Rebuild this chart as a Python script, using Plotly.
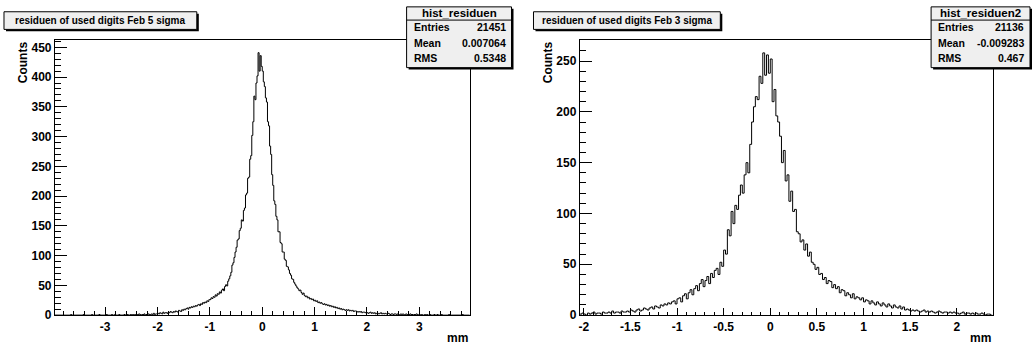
import plotly.graph_objects as go

W, H = 1036, 352

# ---------------- data ----------------
LEFT_TITLE = "residuen of used digits Feb 5 sigma"
RIGHT_TITLE = "residuen of used digits Feb 3 sigma"
LEFT_NAME = "hist_residuen"
RIGHT_NAME = "hist_residuen2"
LEFT_STATS_LABELS = ["Entries", "Mean", "RMS"]
LEFT_STATS_VALUES = ["21451", "0.007064", "0.5348"]
RIGHT_STATS_LABELS = ["Entries", "Mean", "RMS"]
RIGHT_STATS_VALUES = ["21136", "-0.009283", "0.467"]

LEFT_BIN_START = -4.0
LEFT_BIN_WIDTH = 0.02
LEFT_COUNTS = [
    0,0,0,0,0,0,0,0,0,0,0,0,0,0,0,0,0,1,0,0,0,0,0,0,0,
    0,0,0,0,1,0,0,0,0,0,0,0,1,0,0,0,0,0,0,1,0,0,0,0,0,
    0,1,0,0,0,0,1,0,0,1,0,0,0,1,0,0,0,0,1,0,0,1,0,0,1,
    1,0,1,1,0,1,0,2,1,0,1,1,2,0,1,1,2,1,1,2,1,3,1,2,2,
    3,2,4,3,2,5,3,4,4,3,5,4,6,5,4,6,5,7,6,5,8,7,6,9,8,
    10,9,11,12,10,13,12,14,13,15,14,16,15,17,18,16,19,18,21,20,22,21,24,23,26,
    26,29,28,31,30,34,32,36,35,39,37,42,44,41,48,51,49,57,61,66,72,84,88,97,106,
    114,126,128,142,146,160,158,176,180,202,205,230,232,262,268,302,325,368,362,390,402,441,410,436,418,
    410,392,384,365,358,325,318,284,270,236,218,192,186,166,160,140,140,122,120,106,106,94,92,82,81,
    76,70,67,61,60,55,52,49,46,44,41,42,38,35,37,33,31,32,29,30,27,28,26,27,24,
    25,23,24,21,22,20,21,19,18,19,17,18,16,17,15,16,14,15,13,14,12,13,11,12,10,
    11,9,10,9,8,9,8,9,7,8,7,8,6,7,7,6,5,6,5,6,4,5,5,4,5,
    4,3,4,5,3,4,3,4,2,3,3,2,3,4,2,3,2,3,2,2,3,2,1,2,2,
    1,2,2,1,2,1,1,2,1,2,1,1,2,1,0,1,2,1,1,0,1,1,2,1,0,
    1,0,1,0,0,1,0,1,0,0,1,0,0,0,1,0,0,1,0,0,0,1,0,0,0,
    0,0,0,1,0,0,0,0,0,0,0,0,0,0,0,0,1,0,0,0,0,0,0,0,0,
]

RIGHT_BIN_START = -2.04
RIGHT_BIN_WIDTH = 0.02
RIGHT_COUNTS = [
    1,2,1,0,2,1,2,3,1,2,2,1,3,2,2,3,2,4,2,3,3,2,4,3,3,
    4,3,5,4,3,5,6,4,5,7,6,5,7,8,6,9,8,7,10,9,11,10,12,11,13,
    14,11,16,17,13,19,21,16,22,25,20,26,29,24,31,35,28,34,38,31,41,37,44,46,40,
    52,48,64,60,84,78,102,90,108,104,118,128,120,138,150,140,168,190,205,215,212,235,228,258,236,
    256,238,252,210,222,196,190,176,150,162,132,138,112,122,102,104,82,80,72,74,64,70,58,62,52,
    50,45,47,40,41,35,37,31,34,33,27,30,26,28,22,25,24,19,22,20,17,21,16,18,17,
    15,17,13,15,14,11,14,12,10,13,11,9,12,10,8,11,9,7,10,8,7,9,6,8,5,
    6,5,4,5,4,5,4,3,4,5,3,4,3,4,3,2,3,4,3,2,3,3,2,3,2,
    3,2,2,1,2,3,1,2,2,1,2,1,2,1,1,2,1,0,1,1,0,
]

LEFT_X_TICKS = [-3, -2, -1, 0, 1, 2, 3]
LEFT_X_LABELS = ["-3", "-2", "-1", "0", "1", "2", "3"]
LEFT_Y_TICKS = [0, 50, 100, 150, 200, 250, 300, 350, 400, 450]
RIGHT_X_TICKS = [-2, -1.5, -1, -0.5, 0, 0.5, 1, 1.5, 2]
RIGHT_X_LABELS = ["-2", "-1.5", "-1", "-0.5", "0", "0.5", "1", "1.5", "2"]
RIGHT_Y_TICKS = [0, 50, 100, 150, 200, 250]

X_TITLE = "mm"
Y_TITLE = "Counts"

# ---------------- helpers ----------------
FONT = "Liberation Sans, Arial, Helvetica, sans-serif"


def step_xy(start, width, counts):
    xs = [start + i * width for i in range(len(counts) + 1)]
    ys = list(counts) + [counts[-1]]
    return xs, ys


def px(x):
    return x / W


def py(y):
    return 1 - y / H


fig = go.Figure()

lx, ly = step_xy(LEFT_BIN_START, LEFT_BIN_WIDTH, LEFT_COUNTS)
rx, ry = step_xy(RIGHT_BIN_START, RIGHT_BIN_WIDTH, RIGHT_COUNTS)

fig.add_trace(go.Scatter(x=lx, y=ly, mode="lines", line=dict(color="black", width=1, shape="hv"),
                         xaxis="x", yaxis="y", showlegend=False, hoverinfo="skip"))
fig.add_trace(go.Scatter(x=rx, y=ry, mode="lines", line=dict(color="black", width=1, shape="hv"),
                         xaxis="x2", yaxis="y2", showlegend=False, hoverinfo="skip"))

PLOT_TOP, PLOT_BOT = 41, 321.5
L_X0, L_X1 = 54, 469
R_X0, R_X1 = 579.3, 993.3

tickfont = dict(family=FONT, size=12, color="black", weight="bold")

common_x = dict(showline=True, linecolor="black", linewidth=1, mirror=True, ticks="inside",
                tickcolor="black", tickwidth=1, showgrid=False, zeroline=False,
                tickfont=tickfont, tickmode="array", fixedrange=True)
common_y = dict(showline=True, linecolor="black", linewidth=1, mirror=True, ticks="inside",
                tickcolor="black", tickwidth=1, showgrid=False, zeroline=False,
                tickfont=tickfont, tickmode="array", fixedrange=True, ticklen=12)

fig.update_layout(
    width=W, height=H, margin=dict(l=0, r=0, t=0, b=0),
    paper_bgcolor="white", plot_bgcolor="white",
    xaxis=dict(domain=[px(L_X0), px(L_X1)], range=[-3.96, 3.96], anchor="y",
               tickvals=LEFT_X_TICKS, ticktext=LEFT_X_LABELS, ticklen=8,
               minor=dict(dtick=0.2, tick0=0, ticks="inside", ticklen=4, tickcolor="black", showgrid=False),
               **common_x),
    yaxis=dict(domain=[py(PLOT_BOT), py(PLOT_TOP)], range=[0, 462], anchor="x",
               tickvals=LEFT_Y_TICKS, ticktext=[str(v) for v in LEFT_Y_TICKS],
               minor=dict(dtick=10, tick0=0, ticks="inside", ticklen=6, tickcolor="black", showgrid=False),
               **common_y),
    xaxis2=dict(domain=[px(R_X0), px(R_X1)], range=[-2.043, 2.392], anchor="y2",
                tickvals=RIGHT_X_TICKS, ticktext=RIGHT_X_LABELS, ticklen=7,
                minor=dict(dtick=0.1, tick0=0, ticks="inside", ticklen=3.5, tickcolor="black", showgrid=False),
                **common_x),
    yaxis2=dict(domain=[py(PLOT_BOT), py(PLOT_TOP)], range=[0, 270.5], anchor="x2",
                tickvals=RIGHT_Y_TICKS, ticktext=[str(v) for v in RIGHT_Y_TICKS],
                minor=dict(dtick=10, tick0=0, ticks="inside", ticklen=6, tickcolor="black", showgrid=False),
                **common_y),
)

shapes = []
annotations = []


def box(x0, y0, x1, y1, fill, shadow=2):
    shapes.append(dict(type="rect", xref="paper", yref="paper", layer="above",
                       x0=px(x0 + shadow), x1=px(x1 + shadow), y0=py(y1 + shadow), y1=py(y0 + shadow),
                       fillcolor="black", line=dict(width=0)))
    shapes.append(dict(type="rect", xref="paper", yref="paper", layer="above",
                       x0=px(x0), x1=px(x1), y0=py(y1), y1=py(y0),
                       fillcolor=fill, line=dict(color="black", width=1)))


def text(x, y, s, size, xanchor="center", angle=0):
    annotations.append(dict(xref="paper", yref="paper", x=px(x), y=py(y), text=s, showarrow=False,
                            xanchor=xanchor, yanchor="middle", textangle=angle,
                            font=dict(family=FONT, size=size, color="black", weight="bold")))


BOX_FILL = "#efefef"

# title boxes
box(3, 12, 196, 30, BOX_FILL)
text(99.5, 21, LEFT_TITLE, 10)
box(533, 12, 720, 30, BOX_FILL)
text(626.5, 21, RIGHT_TITLE, 10)


# stats boxes
def stats(x0, x1, name, labels, values):
    y0, y1 = 7, 69
    box(x0, y0, x1, y1, BOX_FILL)
    shapes.append(dict(type="line", xref="paper", yref="paper", layer="above",
                       x0=px(x0), x1=px(x1), y0=py(20.5), y1=py(20.5),
                       line=dict(color="black", width=1)))
    text((x0 + x1) / 2, 13.5, name, 11.5)
    for i, (lab, val) in enumerate(zip(labels, values)):
        yy = 28 + i * 15.5
        text(x0 + 5, yy, lab, 10.5, xanchor="left")
        text(x1 - 4, yy, val, 10.5, xanchor="right")


stats(406, 511, LEFT_NAME, LEFT_STATS_LABELS, LEFT_STATS_VALUES)
stats(931, 1030, RIGHT_NAME, RIGHT_STATS_LABELS, RIGHT_STATS_VALUES)

# axis titles
text(22, 63.5, Y_TITLE, 12, angle=-90)
text(547.5, 63.5, Y_TITLE, 12, angle=-90)
text(469, 344.5, X_TITLE, 12, xanchor="right")
text(993.3, 344.5, X_TITLE, 12, xanchor="right")

fig.update_layout(shapes=shapes, annotations=annotations)

fig.write_html("out.html", config={"displayModeBar": False},
               post_script="document.body.style.margin='0px';document.body.style.overflow='hidden';")
